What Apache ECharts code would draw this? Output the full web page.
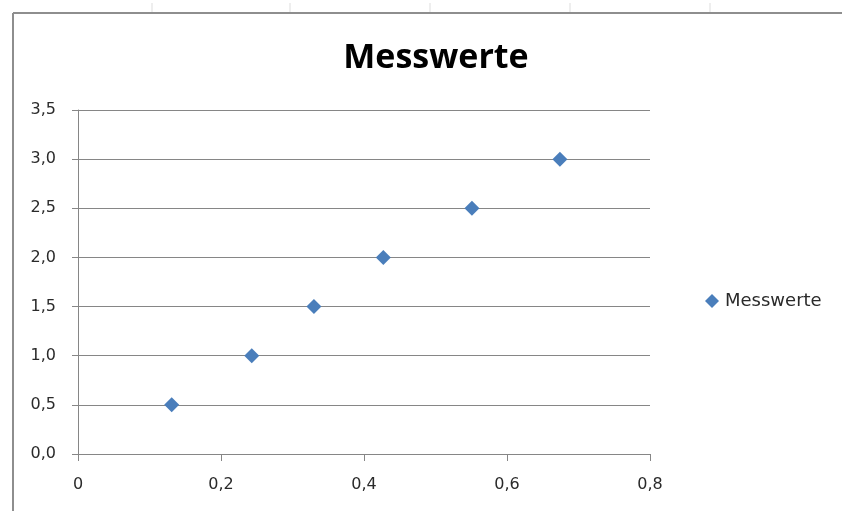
<!DOCTYPE html>
<html>
<head>
<meta charset="utf-8">
<script src="https://cdn.jsdelivr.net/npm/echarts@6/dist/echarts.min.js"></script>
<style>
  html, body { margin: 0; padding: 0; background: #ffffff; }
  #chart { width: 842px; height: 511px; }
</style>
</head>
<body>
<div id="chart"></div>
<script>
// Messwerte: x readings and the matching y values
const seriesName = 'Messwerte';
const xValues = [0.131, 0.243, 0.330, 0.427, 0.551, 0.674];
const yValues = [0.5, 1.0, 1.5, 2.0, 2.5, 3.0];

const points = xValues.map((x, i) => [x, yValues[i]]);
const fmt = (v, d) => v.toFixed(d).replace('.', ',');

const axisGray = '#868686';
const labelFont = 'DejaVu Sans';
const textColor = '#2a2a2a';

const chart = echarts.init(document.getElementById('chart'), null, { renderer: 'canvas' });

chart.setOption({
  backgroundColor: '#ffffff',
  animation: false,
  title: {
    text: seriesName,
    left: 431,
    textAlign: 'center',
    top: 36,
    textStyle: { fontFamily: 'Open Sans', fontWeight: 'bold', fontSize: 34, color: '#000000' }
  },
  legend: {
    data: [{ name: seriesName, icon: 'diamond' }],
    left: 700,
    top: 287,
    itemWidth: 14,
    itemHeight: 14,
    textStyle: { fontFamily: labelFont, fontSize: 18, color: textColor, padding: [0, 0, 0, 1] }
  },
  grid: { left: 78, right: 192, top: 110, bottom: 57 },
  xAxis: {
    type: 'value',
    min: 0,
    max: 0.8,
    interval: 0.2,
    axisLine: { show: true, lineStyle: { color: axisGray, width: 1 } },
    axisTick: { show: true, length: 7, lineStyle: { color: axisGray } },
    splitLine: { show: false },
    axisLabel: {
      margin: 23,
      fontFamily: labelFont,
      fontSize: 16,
      color: textColor,
      formatter: v => (v === 0 ? '0' : fmt(v, 1))
    }
  },
  yAxis: {
    type: 'value',
    min: 0,
    max: 3.5,
    interval: 0.5,
    axisLine: { show: true, lineStyle: { color: axisGray, width: 1 } },
    axisTick: { show: true, length: 6, lineStyle: { color: axisGray } },
    splitLine: { show: true, lineStyle: { color: axisGray, width: 1 } },
    axisLabel: {
      margin: 22,
      fontFamily: labelFont,
      fontSize: 16,
      color: textColor,
      formatter: v => fmt(v, 1)
    }
  },
  series: [{
    name: seriesName,
    type: 'scatter',
    symbol: 'diamond',
    symbolSize: 15,
    itemStyle: { color: '#4A7EBB', opacity: 1 },
    data: points
  }],
  graphic: [
    // chart frame (top and left edges)
    { type: 'line', shape: { x1: 13, y1: 13, x2: 842, y2: 13 }, style: { stroke: '#8e8e8e', lineWidth: 2 } },
    { type: 'line', shape: { x1: 13, y1: 13, x2: 13, y2: 511 }, style: { stroke: '#8e8e8e', lineWidth: 2 } },
    // faint sheet column marks above the frame
    ...[152, 290, 430, 570, 710].map(x => ({
      type: 'line', shape: { x1: x, y1: 3, x2: x, y2: 12 }, style: { stroke: '#dddddd', lineWidth: 1 }
    }))
  ]
});
</script>
</body>
</html>
